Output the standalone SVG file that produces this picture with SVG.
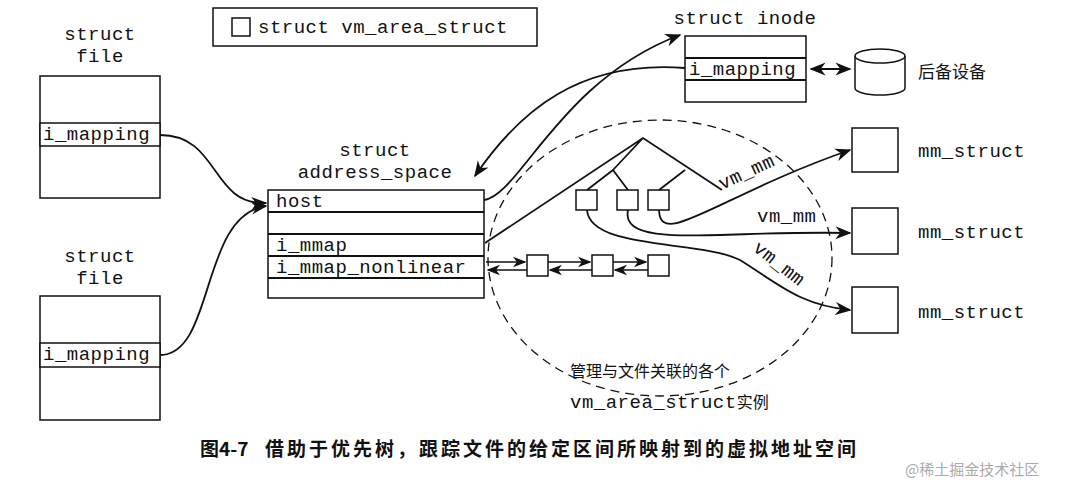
<svg xmlns="http://www.w3.org/2000/svg" width="1090" height="495" viewBox="0 0 1090 495">
<style>
.m{font-family:"Liberation Mono",monospace;font-size:19px;letter-spacing:0.5px;fill:#111}
.c{font-family:"Noto Sans CJK SC",sans-serif;fill:#111}
.b{fill:#fff;stroke:#111;stroke-width:1.5}
.l{fill:none;stroke:#111;stroke-width:1.8}
.s{fill:none;stroke:#111;stroke-width:1.5}
</style>
<defs><marker id="a" viewBox="0 0 10 10" refX="9" refY="5" markerWidth="9" markerHeight="9" orient="auto-start-reverse"><path d="M0,1L10,5L0,9L3,5z" fill="#111"/></marker></defs>
<rect width="1090" height="495" fill="#fff"/>
<g id="legend"><rect class="b" x="213" y="8" width="324" height="38"/><rect class="b" x="232" y="18" width="18" height="18"/><text class="m" x="258" y="33">struct vm_area_struct</text></g>
<g id="file1"><text class="m" x="100" y="40" text-anchor="middle">struct</text><text class="m" x="100" y="62" text-anchor="middle">file</text><rect class="b" x="40" y="76" width="120" height="122"/><rect class="b" x="40" y="123" width="120" height="23"/><text class="m" x="43" y="140">i_mapping</text></g>
<g id="file2"><text class="m" x="100" y="262" text-anchor="middle">struct</text><text class="m" x="100" y="284" text-anchor="middle">file</text><rect class="b" x="40" y="296" width="120" height="124"/><rect class="b" x="40" y="343" width="120" height="24"/><text class="m" x="43" y="360">i_mapping</text></g>
<g id="as"><text class="m" x="375" y="156" text-anchor="middle">struct</text><text class="m" x="375" y="178" text-anchor="middle">address_space</text><rect class="b" x="268" y="190" width="216" height="108"/><path class="l" d="M268,212H484M268,234H484M268,256H484M268,278H484" stroke-width="1.3"/><text class="m" x="276" y="207">host</text><text class="m" x="276" y="251">i_mmap</text><text class="m" x="276" y="273">i_mmap_nonlinear</text></g>
<g id="inode"><text class="m" x="745" y="24" text-anchor="middle">struct inode</text><rect class="b" x="685" y="36" width="121" height="66"/><path class="l" d="M685,58H806M685,80H806" stroke-width="1.3"/><text class="m" x="689" y="75">i_mapping</text></g>
<g id="dev"><path class="b" d="M855,56V88A25,7 0 0 0 905,88V56"/><ellipse class="b" cx="880" cy="56" rx="25" ry="7"/><text class="c" x="918" y="78" font-size="17">后备设备</text></g>
<g id="mm1"><rect class="b" x="852" y="128" width="46" height="44"/><text class="m" x="918" y="157">mm_struct</text></g>
<g id="mm2"><rect class="b" x="852" y="208" width="46" height="46"/><text class="m" x="918" y="238">mm_struct</text></g>
<g id="mm3"><rect class="b" x="852" y="287" width="46" height="46"/><text class="m" x="918" y="318">mm_struct</text></g>
<g id="vmas"><ellipse cx="660" cy="258" rx="172" ry="138" fill="none" stroke="#111" stroke-width="1.3" stroke-dasharray="9,6"/>
<rect class="b" x="576" y="190" width="21" height="20"/><rect class="b" x="617" y="190" width="21" height="20"/><rect class="b" x="648" y="190" width="21" height="20"/>
<rect class="b" x="527" y="255" width="21" height="21"/><rect class="b" x="592" y="255" width="21" height="21"/><rect class="b" x="648" y="255" width="21" height="21"/>
<text class="c" x="570" y="377" font-size="16">管理与文件关联的各个</text><text class="c" x="570" y="408" font-size="16"><tspan class="m" font-size="16" letter-spacing="0">vm_area_struct</tspan>实例</text></g>
<g id="connectors">
<path class="l" d="M160,135C220,135 210,205 266,203" marker-end="url(#a)"/>
<path class="l" d="M160,355C215,355 200,215 266,206" marker-end="url(#a)"/>
<path class="l" d="M685,68C580,60 520,110 475,176" marker-end="url(#a)"/>
<path class="l" d="M484,200C520,195 560,80 680,35" marker-end="url(#a)"/>
<path class="l" d="M811,69H850" marker-start="url(#a)" marker-end="url(#a)"/>
<path class="l" d="M485,243L643,138L722,190M613,170L643,138M613,170L587,190M613,170L628,190M685,170L659,190"/>
<path class="l" d="M659,210C660,250 720,195 850,150" marker-end="url(#a)"/>
<path class="l" d="M628,210C620,250 720,230 850,233" marker-end="url(#a)"/>
<path class="l" d="M587,210C590,250 700,240 740,260C780,285 800,305 850,310" marker-end="url(#a)"/>
<path class="s" d="M486,262H525" marker-end="url(#a)"/>
<path class="s" d="M548,262H590" marker-end="url(#a)"/>
<path class="s" d="M613,262H646" marker-end="url(#a)"/>
<path class="s" d="M527,270H488" marker-end="url(#a)"/>
<path class="s" d="M592,270H550" marker-end="url(#a)"/>
<path class="s" d="M648,270H615" marker-end="url(#a)"/>
<text class="m" x="0" y="0" font-size="16" letter-spacing="0" transform="translate(722,190) rotate(-25)">vm_mm</text>
<text class="m" x="757" y="222" font-size="16" letter-spacing="0">vm_mm</text>
<text class="m" x="0" y="0" font-size="16" letter-spacing="0" transform="translate(752,250) rotate(38)">vm_mm</text>
</g>
<text class="c" x="200" y="456" font-size="19" font-weight="bold">图4-7</text>
<text class="c" x="265" y="456" font-size="19" font-weight="bold" letter-spacing="3">借助于优先树，跟踪文件的给定区间所映射到的虚拟地址空间</text>
<text class="c" x="905" y="475" font-size="15" style="fill:#aaa">@稀土掘金技术社区</text>
</svg>
